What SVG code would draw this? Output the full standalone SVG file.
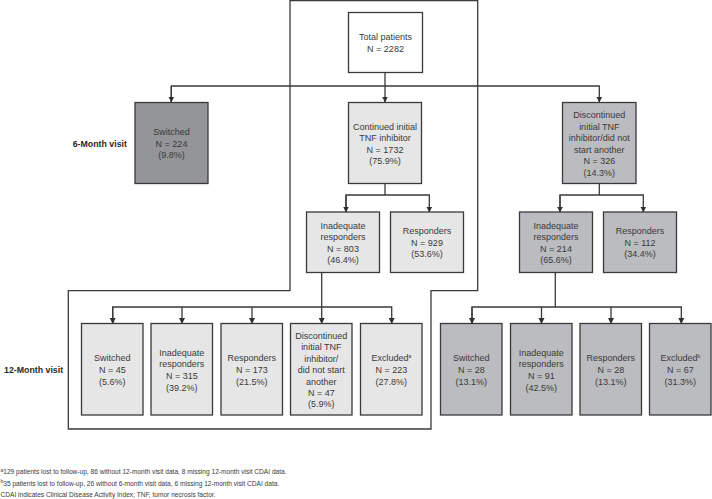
<svg xmlns="http://www.w3.org/2000/svg" width="712" height="499" viewBox="0 0 712 499">
<style>
text{font-family:"Liberation Sans",Arial,sans-serif;fill:#3a3a3a;font-size:9px;text-anchor:middle}
.box rect{stroke:#3a3a3a;stroke-width:1.3}
.w rect{fill:#ffffff}
.l rect{fill:#e6e6e7}
.m rect{fill:#bbbcc0}
.d rect{fill:#949598}
.lbl{font-weight:bold;font-size:8.8px;text-anchor:start;fill:#2a2a2a}
.fn{font-size:6.6px;text-anchor:start}
.sup{font-size:5px}
#connectors path,#connectors line,#frame{fill:none;stroke:#3a3a3a;stroke-width:1.3}
</style>
<defs>
<marker id="ah" markerUnits="userSpaceOnUse" markerWidth="6" markerHeight="7" refX="5.5" refY="3" orient="auto" viewBox="0 0 6 6">
<path d="M0,0 L6,3 L0,6 z" fill="#2f2f2f"/>
</marker>
</defs>
<rect width="712" height="499" fill="#ffffff"/>
<polygon id="frame" points="290,0.7 290,290.7 68.3,290.7 68.3,429 431,429 431,290.7 477.7,290.7 477.7,0.7"/>
<g id="connectors">
<line x1="385" y1="72.5" x2="385" y2="102" marker-end="url(#ah)"/>
<path d="M171.3,102 V86 H599.3 V102" marker-end="url(#ah)"/>
<line x1="171.3" y1="86" x2="171.3" y2="102" marker-end="url(#ah)"/>
<line x1="385" y1="183.5" x2="385" y2="195"/>
<path d="M346,212 V195 H429.3 V212" marker-end="url(#ah)"/>
<line x1="346" y1="195" x2="346" y2="212" marker-end="url(#ah)"/>
<line x1="599.3" y1="183.5" x2="599.3" y2="195"/>
<path d="M560,212 V195 H643.3 V212" marker-end="url(#ah)"/>
<line x1="560" y1="195" x2="560" y2="212" marker-end="url(#ah)"/>
<line x1="321.7" y1="272.5" x2="321.7" y2="323.5" marker-end="url(#ah)"/>
<path d="M112.7,323.5 V307 H391.7 V323.5" marker-end="url(#ah)"/>
<line x1="112.7" y1="307" x2="112.7" y2="323.5" marker-end="url(#ah)"/>
<line x1="182" y1="307" x2="182" y2="323.5" marker-end="url(#ah)"/>
<line x1="252" y1="307" x2="252" y2="323.5" marker-end="url(#ah)"/>
<line x1="555.3" y1="272.5" x2="555.3" y2="307"/>
<path d="M472,323.5 V307 H681.3 V323.5" marker-end="url(#ah)"/>
<line x1="472" y1="307" x2="472" y2="323.5" marker-end="url(#ah)"/>
<line x1="541.5" y1="307" x2="541.5" y2="323.5" marker-end="url(#ah)"/>
<line x1="611" y1="307" x2="611" y2="323.5" marker-end="url(#ah)"/>
</g>
<g id="total" class="box w"><rect x="348.5" y="12.5" width="74" height="60"/>
<text x="385.5" y="40">Total patients</text><text x="385.5" y="52.3">N = 2282</text></g>
<g id="switched6" class="box d"><rect x="135" y="102.5" width="73" height="81"/>
<text x="171.5" y="135.3">Switched</text><text x="171.5" y="146.7">N = 224</text><text x="171.5" y="158">(9.8%)</text></g>
<g id="continued6" class="box l"><rect x="348.5" y="102.5" width="73" height="81"/>
<text x="385" y="129.7">Continued initial</text><text x="385" y="141">TNF inhibitor</text><text x="385" y="152.7">N = 1732</text><text x="385" y="164">(75.9%)</text></g>
<g id="discontinued6" class="box m"><rect x="562.5" y="102.5" width="73.5" height="81"/>
<text x="599.3" y="118">Discontinued</text><text x="599.3" y="129.7">initial TNF</text><text x="599.3" y="141">inhibitor/did not</text><text x="599.3" y="152.7">start another</text><text x="599.3" y="164">N = 326</text><text x="599.3" y="175.7">(14.3%)</text></g>
<g id="inadequate6L" class="box l"><rect x="306.5" y="212" width="73" height="60.5"/>
<text x="343" y="229">Inadequate</text><text x="343" y="240.3">responders</text><text x="343" y="251.7">N = 803</text><text x="343" y="263">(46.4%)</text></g>
<g id="responders6L" class="box l"><rect x="390.5" y="212" width="73" height="60.5"/>
<text x="427" y="234">Responders</text><text x="427" y="245.7">N = 929</text><text x="427" y="257">(53.6%)</text></g>
<g id="inadequate6R" class="box m"><rect x="519.5" y="212" width="73" height="60.5"/>
<text x="556" y="229">Inadequate</text><text x="556" y="240.3">responders</text><text x="556" y="251.7">N = 214</text><text x="556" y="263">(65.6%)</text></g>
<g id="responders6R" class="box m"><rect x="603.5" y="212" width="73" height="60.5"/>
<text x="640" y="234">Responders</text><text x="640" y="245.7">N = 112</text><text x="640" y="257">(34.4%)</text></g>
<g id="sw12L" class="box l"><rect x="81.5" y="323.5" width="61.5" height="91.5"/>
<text x="112.3" y="361.3">Switched</text><text x="112.3" y="373">N = 45</text><text x="112.3" y="384.7">(5.6%)</text></g>
<g id="inad12L" class="box l"><rect x="151" y="323.5" width="61.5" height="91.5"/>
<text x="181.8" y="355.7">Inadequate</text><text x="181.8" y="367">responders</text><text x="181.8" y="379">N = 315</text><text x="181.8" y="390.7">(39.2%)</text></g>
<g id="resp12L" class="box l"><rect x="221" y="323.5" width="61.5" height="91.5"/>
<text x="251.8" y="361.3">Responders</text><text x="251.8" y="373">N = 173</text><text x="251.8" y="384.7">(21.5%)</text></g>
<g id="disc12L" class="box l"><rect x="290.5" y="323.5" width="61.5" height="91.5"/>
<text x="321.3" y="338.7">Discontinued</text><text x="321.3" y="350.3">initial TNF</text><text x="321.3" y="362">inhibitor/</text><text x="321.3" y="373.3">did not start</text><text x="321.3" y="384.7">another</text><text x="321.3" y="396">N = 47</text><text x="321.3" y="407.3">(5.9%)</text></g>
<g id="excl12L" class="box l"><rect x="360.5" y="323.5" width="61.5" height="91.5"/>
<text x="391.3" y="361.3">Excluded<tspan class="sup" dy="-3">a</tspan></text><text x="391.3" y="373">N = 223</text><text x="391.3" y="384.7">(27.8%)</text></g>
<g id="sw12R" class="box m"><rect x="440.5" y="323.5" width="61.5" height="91.5"/>
<text x="471.3" y="361.3">Switched</text><text x="471.3" y="373">N = 28</text><text x="471.3" y="384.7">(13.1%)</text></g>
<g id="inad12R" class="box m"><rect x="510.5" y="323.5" width="61.5" height="91.5"/>
<text x="541.3" y="355.7">Inadequate</text><text x="541.3" y="367">responders</text><text x="541.3" y="379">N = 91</text><text x="541.3" y="390.7">(42.5%)</text></g>
<g id="resp12R" class="box m"><rect x="580" y="323.5" width="61.5" height="91.5"/>
<text x="610.8" y="361.3">Responders</text><text x="610.8" y="373">N = 28</text><text x="610.8" y="384.7">(13.1%)</text></g>
<g id="excl12R" class="box m"><rect x="649.5" y="323.5" width="61.5" height="91.5"/>
<text x="680.3" y="361.3">Excluded<tspan class="sup" dy="-3">b</tspan></text><text x="680.3" y="373">N = 67</text><text x="680.3" y="384.7">(31.3%)</text></g>
<text class="lbl" x="72.7" y="146.5">6-Month visit</text>
<text class="lbl" x="4" y="373">12-Month visit</text>
<text class="fn" x="0.5" y="474"><tspan class="sup" font-size="4.2px" dy="-2.2">a</tspan><tspan dy="2.2">129 patients lost to follow-up, 86 without 12-month visit data, 8 missing 12-month visit CDAI data.</tspan></text>
<text class="fn" x="0.5" y="485.5"><tspan class="sup" font-size="4.2px" dy="-2.2">b</tspan><tspan dy="2.2">35 patients lost to follow-up, 26 without 6-month visit data, 6 missing 12-month visit CDAI data.</tspan></text>
<text class="fn" x="0.5" y="497">CDAI indicates Clinical Disease Activity Index; TNF, tumor necrosis factor.</text>
</svg>
